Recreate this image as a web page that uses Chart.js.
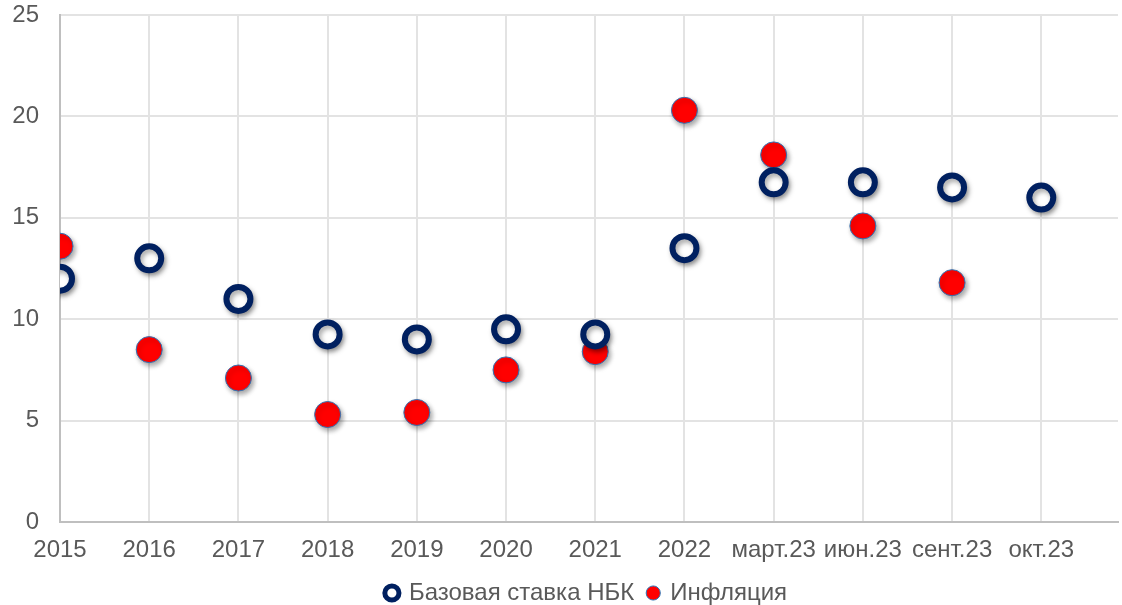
<!DOCTYPE html>
<html>
<head>
<meta charset="utf-8">
<script src="https://cdn.jsdelivr.net/npm/chart.js@4.4.1/dist/chart.umd.min.js"></script>
<style>
  html, body { margin: 0; padding: 0; background: #fff; }
  #wrap { width: 1122px; height: 605px; }
</style>
</head>
<body>
<div id="wrap"><canvas id="chartCanvas" width="1122" height="605"></canvas></div>
<script>
// ===== data =====
const categories = ["2015", "2016", "2017", "2018", "2019", "2020", "2021", "2022",
    "март.23", "июн.23", "сент.23", "окт.23"];
const baseRate = [12, 13, 11, 9.25, 9, 9.5, 9.25, 13.5, 16.75, 16.75, 16.5, 16];
const inflation = [13.6, 8.5, 7.1, 5.3, 5.4, 7.5, 8.4, 20.3, 18.1, 14.6, 11.8, null];
const yTicks = [0, 5, 10, 15, 20, 25];

const toPoints = arr => arr.map((v, i) => ({ x: i, y: v }));

// soft drop shadow under the markers
const shadowPlugin = {
    id: "shadow",
    beforeDatasetsDraw(chart) {
        const ctx = chart.ctx;
        ctx.save();
        ctx.shadowColor = "rgba(0,0,0,0.35)";
        ctx.shadowBlur = 5;
        ctx.shadowOffsetX = 2;
        ctx.shadowOffsetY = 3;
    },
    afterDatasetsDraw(chart) {
        chart.ctx.restore();
    }
};

// legend sits a bit right of centre in the original
const legendShift = {
    id: "legendShift",
    afterLayout(chart) {
        chart.legend.left += 28;
        chart.legend.right += 28;
    }
};

const font = { family: "Arial, 'Liberation Sans', sans-serif", size: 24, lineHeight: 1 };

new Chart(document.getElementById("chartCanvas"), {
    type: "scatter",
    data: {
        datasets: [
            {
                label: "Базовая ставка НБК",
                data: toPoints(baseRate),
                backgroundColor: "#ffffff",
                borderColor: "#002060",
                borderWidth: 6,
                pointRadius: 12,
                pointHoverRadius: 12
            },
            {
                label: "Инфляция",
                data: toPoints(inflation),
                backgroundColor: "#ff0000",
                borderColor: "#2e75b6",
                borderWidth: 1,
                pointRadius: 13,
                pointHoverRadius: 13
            }
        ]
    },
    options: {
        responsive: false,
        animation: false,
        layout: { autoPadding: false, padding: { top: 15, right: 4, left: 0, bottom: -10 } },
        plugins: {
            tooltip: { enabled: false },
            legend: {
                position: "bottom",
                labels: {
                    usePointStyle: true,
                    boxWidth: 10,
                    boxHeight: 10,
                    color: "#595959",
                    font: font,
                    padding: 14,
                    generateLabels(chart) {
                        return chart.data.datasets.map((d, i) => ({
                            text: d.label,
                            fillStyle: d.backgroundColor,
                            strokeStyle: d.borderColor,
                            lineWidth: i === 0 ? 5 : 1,
                            pointStyle: "circle",
                            fontColor: "#595959",
                            datasetIndex: i
                        }));
                    }
                }
            }
        },
        scales: {
            x: {
                type: "linear",
                min: 0,
                max: 11.86,
                afterBuildTicks(scale) {
                    scale.ticks = categories.map((c, i) => ({ value: i }));
                },
                afterFit(scale) {
                    scale.height = 45;
                    scale.paddingLeft = 0;
                    scale.paddingRight = 0;
                },
                ticks: {
                    color: "#595959",
                    font: font,
                    maxRotation: 0,
                    autoSkip: false,
                    padding: 16,
                    callback: v => categories[v] ?? ""
                },
                grid: { color: "#e3e3e3", lineWidth: 2, drawTicks: false },
                border: { color: "#bfbfbf", width: 2 }
            },
            y: {
                min: 0,
                max: 25,
                afterBuildTicks(scale) {
                    scale.ticks = yTicks.map(v => ({ value: v }));
                },
                afterFit(scale) {
                    scale.width = 60;
                    scale.paddingTop = 0;
                    scale.paddingBottom = 0;
                },
                ticks: {
                    color: "#595959",
                    font: font,
                    padding: 21
                },
                grid: { color: "#e3e3e3", lineWidth: 2, drawTicks: false },
                border: { color: "#bfbfbf", width: 2 }
            }
        }
    },
    plugins: [shadowPlugin, legendShift]
});
</script>
</body>
</html>
